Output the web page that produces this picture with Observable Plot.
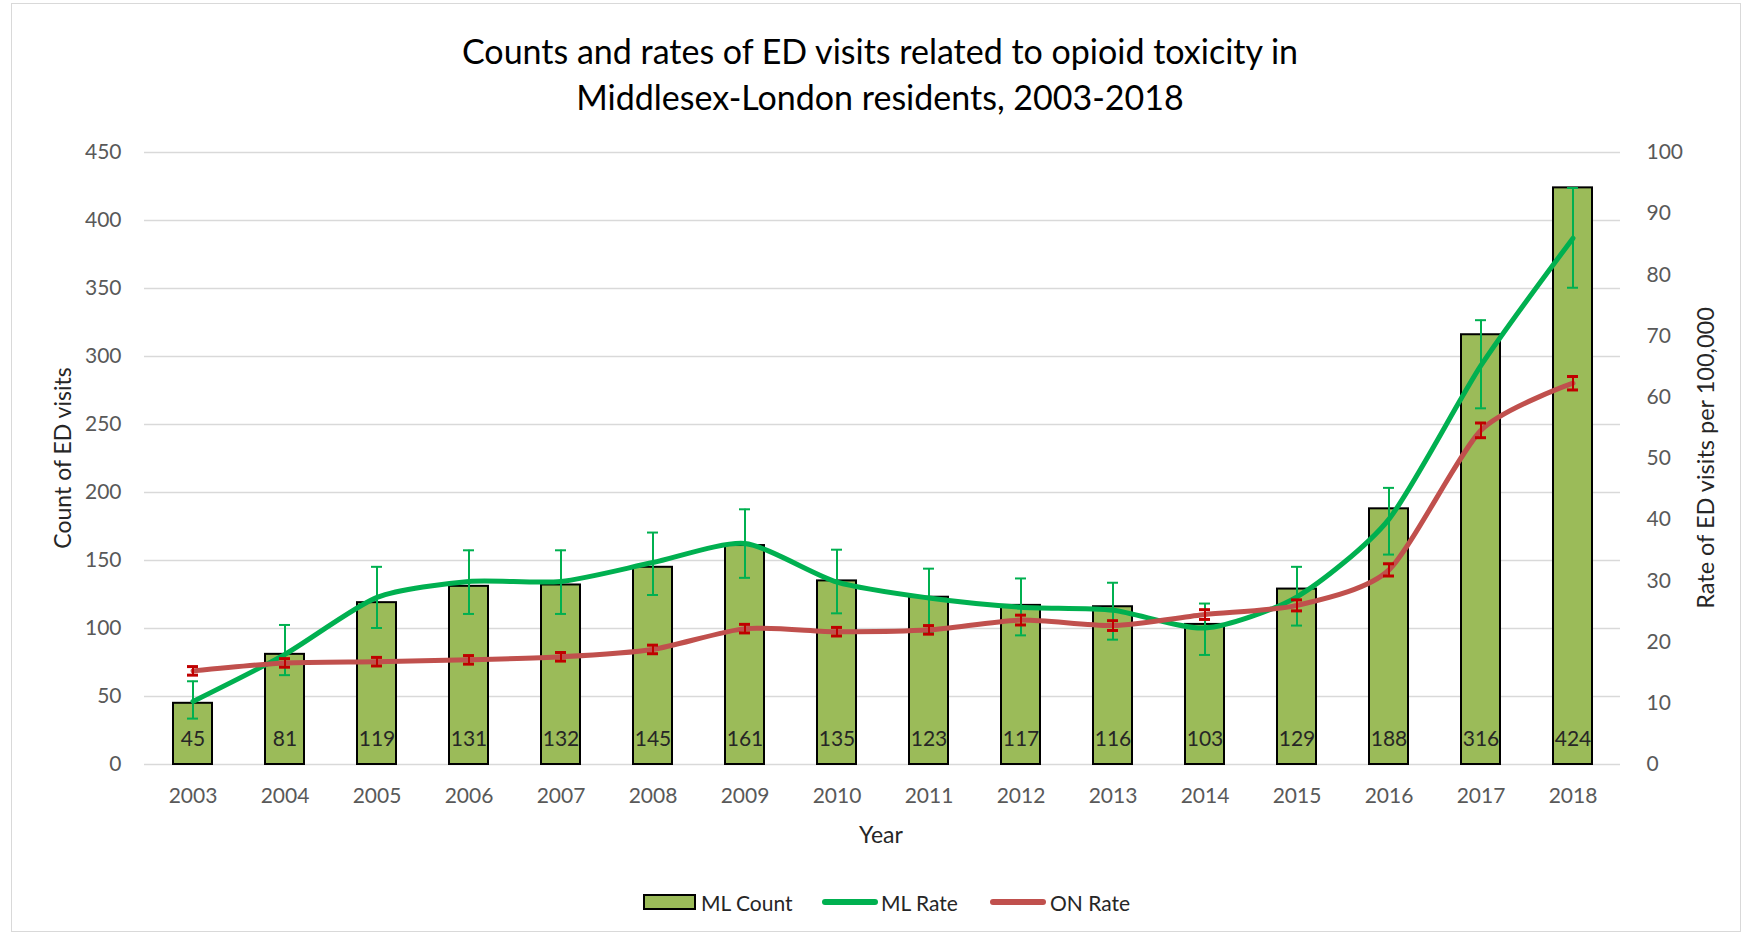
<!DOCTYPE html>
<html>
<head>
<meta charset="utf-8">
<script src="https://cdn.jsdelivr.net/npm/d3@7"></script>
<script src="https://cdn.jsdelivr.net/npm/@observablehq/plot@0.6"></script>
<style>
  html, body { margin: 0; padding: 0; background: #fff; }
  #wrap { position: relative; width: 1760px; height: 938px; font-family: Lato, "Open Sans", sans-serif; overflow: hidden; }
  #wrap svg { position: absolute; left: 0; top: 0; }
  .abs { position: absolute; white-space: nowrap; }
</style>
</head>
<body>
<div id="wrap"></div>
<script>
// ---- data ----
const years = ["2003","2004","2005","2006","2007","2008","2009","2010","2011","2012","2013","2014","2015","2016","2017","2018"];
const mlCount = [45, 81, 119, 131, 132, 145, 161, 135, 123, 117, 116, 103, 129, 188, 316, 424];
const mlRate   = [10.3, 18.0, 27.3, 29.9, 29.9, 33.0, 36.1, 29.8, 27.2, 25.7, 25.2, 22.3, 27.4, 40.1, 65.2, 86.0];
const mlRateLo = [7.5, 14.6, 22.3, 24.6, 24.6, 27.7, 30.5, 24.7, 21.7, 21.1, 20.4, 17.9, 22.7, 34.3, 58.2, 77.9];
const mlRateHi = [13.6, 22.8, 32.3, 35.0, 35.0, 37.9, 41.7, 35.1, 32.0, 30.4, 29.7, 26.3, 32.3, 45.2, 72.6, 94.2];
const onRate   = [15.3, 16.6, 16.8, 17.1, 17.6, 18.8, 22.2, 21.7, 22.0, 23.6, 22.7, 24.5, 26.0, 31.8, 54.6, 62.3];
const onRateLo = [14.6, 15.9, 16.1, 16.4, 16.9, 18.1, 21.5, 21.0, 21.3, 22.8, 21.9, 23.7, 25.1, 30.8, 53.4, 61.2];
const onRateHi = [16.0, 17.3, 17.5, 17.8, 18.3, 19.5, 22.9, 22.4, 22.7, 24.4, 23.5, 25.3, 26.9, 32.8, 55.8, 63.4];
const countTicks = [0, 50, 100, 150, 200, 250, 300, 350, 400, 450];
const rateTicks = [0, 10, 20, 30, 40, 50, 60, 70, 80, 90, 100];

const titleLines = ["Counts and rates of ED visits related to opioid toxicity in", "Middlesex-London residents, 2003-2018"];
const leftLabel = "Count of ED visits";
const rightLabel = "Rate of ED visits per 100,000";
const xLabel = "Year";
const legendItems = ["ML Count", "ML Rate", "ON Rate"];

const data = years.map((y, i) => ({
  year: y, count: mlCount[i],
  ml: mlRate[i], mlLo: mlRateLo[i], mlHi: mlRateHi[i],
  on: onRate[i], onLo: onRateLo[i], onHi: onRateHi[i]
}));

// ---- layout ----
const W = 1760, H = 938;
const M = {left: 144, right: 140, top: 152, bottom: 174};
const xScale = {type: "band", domain: years, paddingInner: 0.58, paddingOuter: 0.29};
const font = "Lato, 'Open Sans', sans-serif";
const green = "#00B050", red = "#C0504D", redErr = "#C00000", barFill = "#9BBB59";
const capInset = 14;

const common = {
  width: W, height: H,
  marginLeft: M.left, marginRight: M.right, marginTop: M.top, marginBottom: M.bottom,
  style: {fontFamily: font, fontSize: "21px", color: "#595959", background: "transparent", overflow: "visible"}
};

const countPlot = Plot.plot({
  ...common,
  x: {...xScale, label: null},
  y: {domain: [0, 450], label: null},
  marks: [
    Plot.gridY(countTicks, {stroke: "#d9d9d9", strokeOpacity: 1, strokeWidth: 1.5}),
    Plot.axisY(countTicks, {anchor: "left", tickSize: 0, tickPadding: 23, label: null, fill: "#595959", fontSize: 21}),
    Plot.axisX({anchor: "bottom", tickSize: 0, tickPadding: 24, label: null, fill: "#595959", fontSize: 21}),
    Plot.barY(data, {x: "year", y: "count", fill: barFill, stroke: "#000", strokeWidth: 2}),
    Plot.text(data, {x: "year", y: 0, text: d => String(d.count), dy: -25, fill: "#262626", fontSize: 21})
  ]
});

const lineOpts = {strokeWidth: 5, curve: "cardinal", tension: 0.3, strokeLinejoin: "round", strokeLinecap: "round"};
const ratePlot = Plot.plot({
  ...common,
  x: {...xScale, axis: null},
  y: {domain: [0, 100], label: null},
  marks: [
    Plot.axisY(rateTicks, {anchor: "right", tickSize: 0, tickPadding: 26, label: null, fill: "#595959", fontSize: 21}),
    Plot.line(data, {x: "year", y: "ml", stroke: green, ...lineOpts}),
    Plot.ruleX(data, {x: "year", y1: "mlLo", y2: "mlHi", stroke: green, strokeWidth: 2}),
    Plot.tickY(data, {x: "year", y: "mlLo", stroke: green, strokeWidth: 2, insetLeft: capInset, insetRight: capInset}),
    Plot.tickY(data, {x: "year", y: "mlHi", stroke: green, strokeWidth: 2, insetLeft: capInset, insetRight: capInset}),
    Plot.line(data, {x: "year", y: "on", stroke: red, ...lineOpts}),
    Plot.ruleX(data, {x: "year", y1: "onLo", y2: "onHi", stroke: redErr, strokeWidth: 2}),
    Plot.tickY(data, {x: "year", y: "onLo", stroke: redErr, strokeWidth: 3, insetLeft: capInset, insetRight: capInset}),
    Plot.tickY(data, {x: "year", y: "onHi", stroke: redErr, strokeWidth: 3, insetLeft: capInset, insetRight: capInset})
  ]
});

const wrap = document.getElementById("wrap");

// chart frame
const frame = document.createElement("div");
frame.className = "abs";
Object.assign(frame.style, {left: "11px", top: "3px", width: "1730px", height: "929px", border: "1px solid #d9d9d9", boxSizing: "border-box"});
wrap.appendChild(frame);

wrap.appendChild(countPlot);
wrap.appendChild(ratePlot);

// title
const title = document.createElement("div");
title.className = "abs";
Object.assign(title.style, {left: "0px", width: W + "px", top: "28px", textAlign: "center", fontSize: "34px", lineHeight: "46px", color: "#000"});
title.innerHTML = titleLines.join("<br>");
wrap.appendChild(title);

// axis titles
function addText(txt, x, y, size, rot, color) {
  const d = document.createElement("div");
  d.className = "abs";
  d.textContent = txt;
  Object.assign(d.style, {left: x + "px", top: y + "px", fontSize: size + "px", color: color || "#262626",
    transform: `translate(-50%, -50%)${rot ? " rotate(" + rot + "deg)" : ""}`, lineHeight: "1"});
  wrap.appendChild(d);
  return d;
}
addText(leftLabel, 62, 458, 23, -90);
addText(rightLabel, 1706, 458, 23.5, -90);
addText(xLabel, 881, 834, 23, 0);

// legend: swatches and labels placed as in the reference
const legY = 902;
function swatch(x, w, h, style) {
  const s = document.createElement("div");
  s.className = "abs";
  Object.assign(s.style, {left: x + "px", top: (legY - h / 2) + "px", width: w + "px", height: h + "px", boxSizing: "border-box"}, style);
  wrap.appendChild(s);
}
swatch(643, 53, 16, {background: barFill, border: "2px solid #000"});
swatch(822, 56, 6, {background: green, borderRadius: "3px"});
swatch(990, 56, 6, {background: red, borderRadius: "3px"});
const legX = [701, 881, 1050];
legendItems.forEach((t, i) => {
  const d = document.createElement("div");
  d.className = "abs";
  d.textContent = t;
  Object.assign(d.style, {left: legX[i] + "px", top: legY + "px", fontSize: "21px", color: "#262626", transform: "translateY(-50%)", lineHeight: "1"});
  wrap.appendChild(d);
});
</script>
</body>
</html>
